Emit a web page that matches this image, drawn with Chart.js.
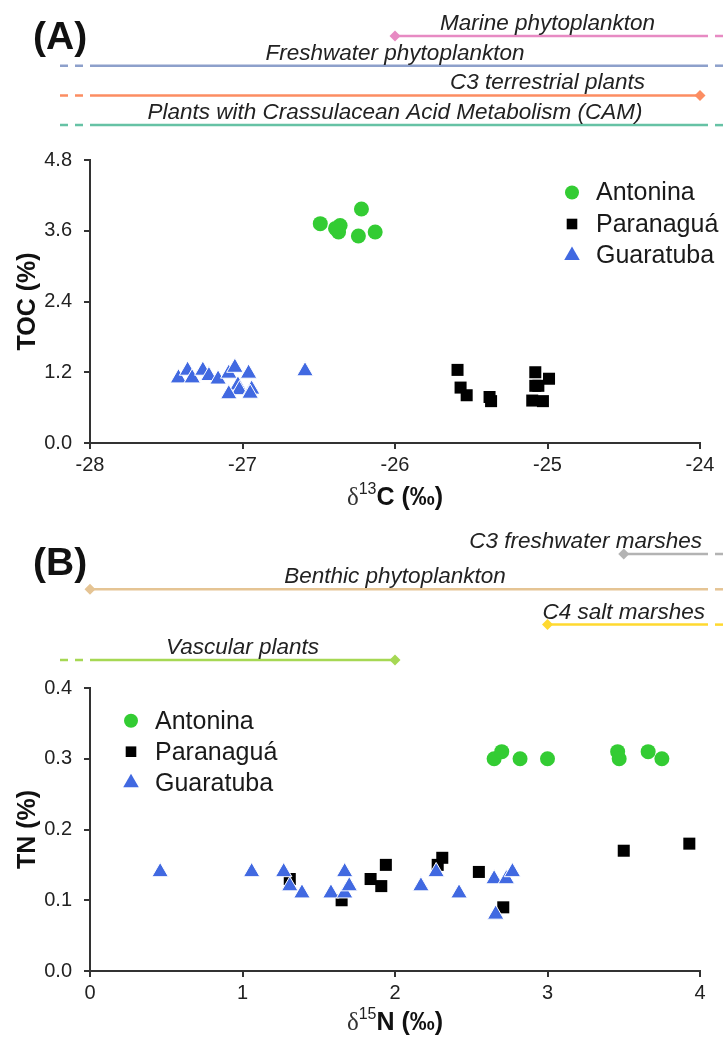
<!DOCTYPE html>
<html>
<head>
<meta charset="utf-8">
<script src="https://cdn.jsdelivr.net/npm/chart.js@4.4.1/dist/chart.umd.min.js"></script>
<style>
  body { margin: 0; background: #fff; }
  canvas { display: block; }
</style>
</head>
<body>
<canvas id="chartCarbon" width="726" height="520"></canvas>
<canvas id="chartNitrogen" width="726" height="521"></canvas>
<script>
const sites = ["Antonina", "Paranaguá", "Guaratuba"];
const siteColors = ["rgb(51, 204, 51)", "#000000", "rgb(65, 105, 225)"];
const siteMarkers = ["circle", "rect", "triangle"];

// (A) δ13C (‰) vs TOC (%)
const antoninaC13 = [-26.49, -26.36, -26.37, -26.39, -26.22, -26.24, -26.13];
const antoninaToc = [3.72, 3.69, 3.58, 3.64, 3.97, 3.51, 3.58];
const paranaguaC13 = [-25.59, -25.57, -25.53, -25.38, -25.37, -25.08, -25.08, -25.06, -24.99, -25.1, -25.03];
const paranaguaToc = [1.24, 0.94, 0.81, 0.78, 0.71, 1.2, 0.97, 0.97, 1.09, 0.72, 0.71];
const guaratubaC13 = [-27.42, -27.36, -27.33, -27.26, -27.22, -27.16, -27.09, -27.05, -26.96, -27.03, -27.02, -27.09, -26.94, -26.95, -26.59];
const guaratubaToc = [1.1, 1.23, 1.1, 1.23, 1.14, 1.08, 1.18, 1.28, 1.18, 0.98, 0.9, 0.83, 0.91, 0.84, 1.22];
const c13Ticks = [-28, -27, -26, -25, -24];
const tocTicks = [0, 1.2, 2.4, 3.6, 4.8];

// (B) δ15N (‰) vs TN (%)
const antoninaN15 = [2.65, 2.7, 2.82, 3.0, 3.46, 3.47, 3.66, 3.75];
const antoninaTn = [0.3, 0.31, 0.3, 0.3, 0.31, 0.3, 0.31, 0.3];
const paranaguaN15 = [1.31, 1.65, 1.84, 1.91, 1.94, 2.28, 2.31, 2.55, 2.71, 3.5, 3.93];
const paranaguaTn = [0.13, 0.1, 0.13, 0.12, 0.15, 0.15, 0.16, 0.14, 0.09, 0.17, 0.18];
const guaratubaN15 = [0.46, 1.06, 1.27, 1.31, 1.39, 1.58, 1.67, 1.67, 1.7, 2.17, 2.27, 2.42, 2.65, 2.73, 2.77, 2.66];
const guaratubaTn = [0.14, 0.14, 0.14, 0.12, 0.11, 0.11, 0.14, 0.11, 0.12, 0.12, 0.14, 0.11, 0.13, 0.13, 0.14, 0.08];
const n15Ticks = [0, 1, 2, 3, 4];
const tnTicks = [0, 0.1, 0.2, 0.3, 0.4];

// end-member source ranges; null means the range runs on past the axis
const carbonSources = ["Marine phytoplankton", "Freshwater phytoplankton", "C3 terrestrial plants", "Plants with Crassulacean Acid Metabolism (CAM)"];
const carbonSourceMin = [-26, null, null, null];
const carbonSourceMax = [null, null, -24, null];
const carbonSourceColors = ["#e78ac3", "#8da0cb", "#fc8d62", "#66c2a5"];

const nitrogenSources = ["C3 freshwater marshes", "Benthic phytoplankton", "C4 salt marshes", "Vascular plants"];
const nitrogenSourceMin = [3.5, 0, 3, null];
const nitrogenSourceMax = [null, null, null, 2];
const nitrogenSourceColors = ["#b3b3b3", "#e5c494", "#ffd92f", "#a6d854"];

const SANS = "'Liberation Sans', Arial, sans-serif";
const SERIF = "'Liberation Serif', 'DejaVu Serif', serif";
const markerRadius = { circle: 7.5, rect: 8.5, triangle: 9.5 };
const legendRadius = { circle: 7, rect: 7.5, triangle: 9 };

function toPoints(xs, ys) {
  return xs.map((x, i) => ({ x: x, y: ys[i] }));
}

function siteDatasets(series) {
  return series.map((s, i) => ({
    label: sites[i],
    data: toPoints(s[0], s[1]),
    pointStyle: siteMarkers[i],
    pointRadius: markerRadius[siteMarkers[i]],
    backgroundColor: siteColors[i],
    borderColor: siteMarkers[i] === "triangle" ? "#ffffff" : siteColors[i],
    borderWidth: siteMarkers[i] === "triangle" ? 1 : 0,
    order: 2 - i,
  }));
}

function strokeLine(ctx, x0, x1, y) {
  ctx.beginPath();
  ctx.moveTo(x0, y);
  ctx.lineTo(x1, y);
  ctx.stroke();
}

function diamond(ctx, x, y) {
  const s = 5.5;
  ctx.beginPath();
  ctx.moveTo(x, y - s);
  ctx.lineTo(x + s, y);
  ctx.lineTo(x, y + s);
  ctx.lineTo(x - s, y);
  ctx.closePath();
  ctx.fill();
}

// horizontal source bars above the plot, plus the panel letter
const sourceRanges = {
  id: "sourceRanges",
  afterDraw(chart, args, opts) {
    const ctx = chart.ctx;
    const xs = chart.scales.x;
    const area = chart.chartArea;
    ctx.save();
    ctx.lineWidth = 2.5;
    opts.names.forEach((name, i) => {
      const y = opts.top + i * opts.gap;
      const lo = opts.min[i];
      const hi = opts.max[i];
      const x0 = lo === null ? area.left : xs.getPixelForValue(lo);
      const x1 = hi === null ? area.right + 8 : xs.getPixelForValue(hi);
      ctx.strokeStyle = opts.colors[i];
      ctx.fillStyle = opts.colors[i];
      ctx.setLineDash([]);
      strokeLine(ctx, x0, x1, y);
      ctx.setLineDash([8, 7]);
      if (lo === null) strokeLine(ctx, area.left - 30, area.left - 1, y);
      if (hi === null) strokeLine(ctx, area.right + 15, chart.width, y);
      ctx.setLineDash([]);
      if (lo !== null) diamond(ctx, x0, y);
      if (hi !== null) diamond(ctx, x1, y);
      ctx.fillStyle = "#222";
      ctx.font = "italic 22.5px " + SANS;
      ctx.textAlign = "center";
      ctx.textBaseline = "alphabetic";
      ctx.fillText(name, xs.getPixelForValue(opts.labelAt[i]), y - 6);
    });
    ctx.fillStyle = "#111";
    ctx.font = "bold 39px " + SANS;
    ctx.textAlign = "left";
    ctx.textBaseline = "middle";
    ctx.fillText(opts.panel, 33, opts.panelY);
    ctx.restore();
  },
};

// δ-notation x title: serif delta, superscript mass number, bold rest
const deltaTitle = {
  id: "deltaTitle",
  afterDraw(chart, args, opts) {
    const ctx = chart.ctx;
    const area = chart.chartArea;
    const parts = [
      { text: "δ", font: "25px " + SERIF, dy: 0, color: "#333" },
      { text: opts.mass, font: "16px " + SANS, dy: -11, color: "#222" },
      { text: opts.rest, font: "bold 25px " + SANS, dy: 0, color: "#111" },
    ];
    ctx.save();
    ctx.textBaseline = "alphabetic";
    ctx.textAlign = "left";
    let total = 0;
    parts.forEach((p) => {
      ctx.font = p.font;
      p.w = ctx.measureText(p.text).width;
      total += p.w;
    });
    let x = (area.left + area.right) / 2 - total / 2;
    const y = area.bottom + opts.offset;
    parts.forEach((p) => {
      ctx.font = p.font;
      ctx.fillStyle = p.color;
      ctx.fillText(p.text, x, y + p.dy);
      x += p.w;
    });
    ctx.restore();
  },
};

// marker + name list drawn inside the plot area
const siteLegend = {
  id: "siteLegend",
  afterDraw(chart, args, opts) {
    const ctx = chart.ctx;
    ctx.save();
    chart.data.datasets.forEach((ds, i) => {
      const y = opts.y + i * opts.gap;
      ctx.fillStyle = ds.backgroundColor;
      Chart.helpers.drawPoint(ctx, {
        pointStyle: ds.pointStyle,
        radius: legendRadius[ds.pointStyle],
        rotation: 0,
        borderWidth: 0,
      }, opts.x, y);
      ctx.fillStyle = "#1a1a1a";
      ctx.font = "25px " + SANS;
      ctx.textAlign = "left";
      ctx.textBaseline = "middle";
      ctx.fillText(ds.label, opts.x + 24, y + 1);
    });
    ctx.restore();
  },
};

function axisLines() {
  return {
    grid: { display: true, drawOnChartArea: false, drawTicks: true, tickLength: 6, color: "#333", lineWidth: 2 },
    border: { display: true, color: "#333", width: 2 },
  };
}

function makeChart(id, cfg) {
  new Chart(document.getElementById(id), {
    type: "scatter",
    data: { datasets: siteDatasets(cfg.series) },
    plugins: [sourceRanges, deltaTitle, siteLegend],
    options: {
      responsive: false,
      animation: false,
      events: [],
      layout: { padding: { top: cfg.padTop, right: 26, left: 0, bottom: 0 } },
      scales: {
        x: Object.assign(axisLines(), {
          type: "linear",
          min: cfg.xTicks[0],
          max: cfg.xTicks[cfg.xTicks.length - 1],
          afterBuildTicks: (scale) => { scale.ticks = cfg.xTicks.map((v) => ({ value: v })); },
          afterFit: (scale) => { scale.height = cfg.xAxisHeight; },
          ticks: {
            padding: 4,
            color: "#222",
            font: { family: SANS, size: 20 },
            maxRotation: 0,
            callback: (v) => String(v),
          },
        }),
        y: Object.assign(axisLines(), {
          type: "linear",
          min: cfg.yTicks[0],
          max: cfg.yTicks[cfg.yTicks.length - 1],
          afterBuildTicks: (scale) => { scale.ticks = cfg.yTicks.map((v) => ({ value: v })); },
          afterFit: (scale) => { scale.width = 90; },
          ticks: {
            padding: 12,
            color: "#222",
            font: { family: SANS, size: 20 },
            callback: (v) => v.toFixed(1),
          },
          title: {
            display: true,
            text: cfg.yTitle,
            color: "#111",
            font: { family: SANS, size: 25, weight: "bold", lineHeight: 1 },
            padding: { top: 16, bottom: 0 },
          },
        }),
      },
      plugins: {
        legend: { display: false },
        tooltip: { enabled: false },
        sourceRanges: cfg.ranges,
        deltaTitle: cfg.xTitle,
        siteLegend: cfg.legend,
      },
    },
  });
}

makeChart("chartCarbon", {
  series: [[antoninaC13, antoninaToc], [paranaguaC13, paranaguaToc], [guaratubaC13, guaratubaToc]],
  xTicks: c13Ticks,
  yTicks: tocTicks,
  yTitle: "TOC (%)",
  padTop: 160,
  xAxisHeight: 77,
  xTitle: { mass: "13", rest: "C (‰)", offset: 62 },
  legend: { x: 572, y: 192.5, gap: 31.5 },
  ranges: {
    panel: "(A)",
    panelY: 38,
    names: carbonSources,
    min: carbonSourceMin,
    max: carbonSourceMax,
    colors: carbonSourceColors,
    labelAt: [-25, -26, -25, -26],
    top: 36,
    gap: 29.7,
  },
});

makeChart("chartNitrogen", {
  series: [[antoninaN15, antoninaTn], [paranaguaN15, paranaguaTn], [guaratubaN15, guaratubaTn]],
  xTicks: n15Ticks,
  yTicks: tnTicks,
  yTitle: "TN (%)",
  padTop: 168,
  xAxisHeight: 70,
  xTitle: { mass: "15", rest: "N (‰)", offset: 59 },
  legend: { x: 131, y: 200.7, gap: 31 },
  ranges: {
    panel: "(B)",
    panelY: 44,
    names: nitrogenSources,
    min: nitrogenSourceMin,
    max: nitrogenSourceMax,
    colors: nitrogenSourceColors,
    labelAt: [3.25, 2, 3.5, 1],
    top: 34,
    gap: 35.3,
  },
});
</script>
</body>
</html>
